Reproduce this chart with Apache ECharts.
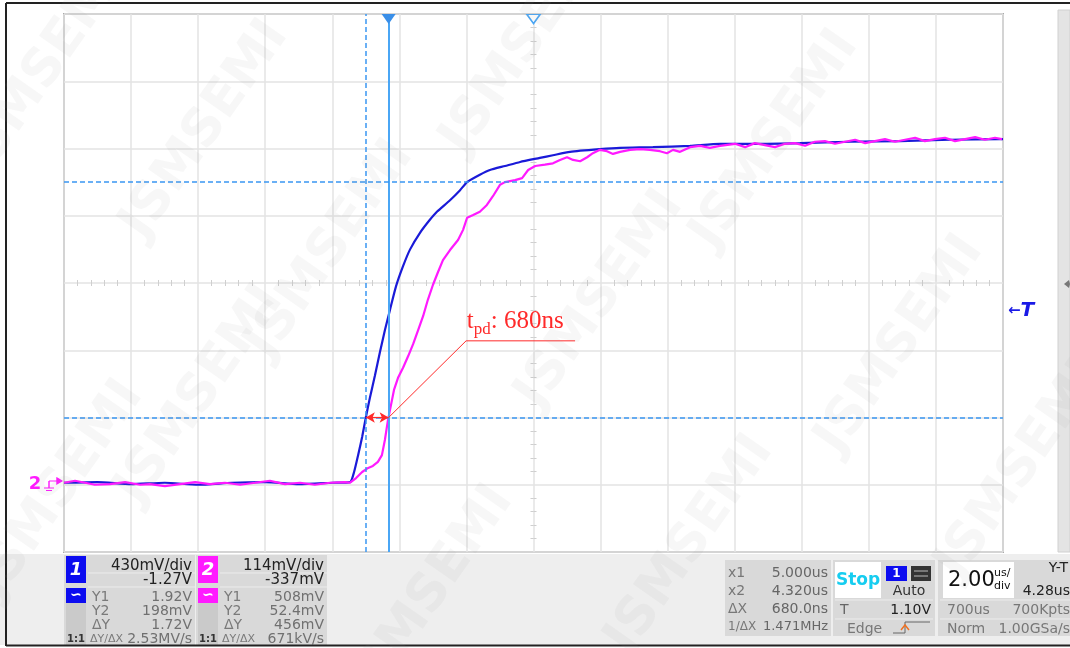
<!DOCTYPE html>
<html>
<head>
<meta charset="utf-8">
<script src="https://cdn.jsdelivr.net/npm/echarts@6/dist/echarts.min.js"></script>
<style>
html, body { margin: 0; padding: 0; background: #fff; }
#scope { width: 1070px; height: 648px; }
</style>
</head>
<body>
<div id="scope"></div>
<script>
// screen time in us (14 div x 2.00us/div), level in divisions (8 div)
var ch1Time = [0, 1, 2, 3, 4, 5, 6, 7, 8, 8.53, 8.65, 8.77, 8.89, 9.0, 9.12, 9.27, 9.42, 9.57, 9.72, 9.9,
  10.11, 10.32, 10.62, 10.91, 11.12, 11.51, 11.81, 12.02, 12.4, 12.7, 13.15, 13.6, 14.19, 14.58, 15.09,
  15.98, 16.58, 17.56, 18.67, 19.56, 20.75, 21.95, 23.44, 24.93, 26.42, 27.91, 28.0]
var ch1Div = [1.03, 1.04, 1.01, 1.03, 1.0, 1.03, 1.04, 1.01, 1.03, 1.04, 1.19, 1.44, 1.71, 2.0, 2.29, 2.62,
  2.97, 3.3, 3.6, 3.95, 4.25, 4.5, 4.75, 4.94, 5.06, 5.23, 5.38, 5.5, 5.61, 5.68, 5.74, 5.8, 5.86, 5.9,
  5.95, 5.99, 6.01, 6.02, 6.04, 6.07, 6.07, 6.08, 6.1, 6.11, 6.13, 6.14, 6.14]

var ch2Time = [0, 0.33, 0.63, 0.92, 1.37, 1.82, 2.27, 2.56, 3.01, 3.46, 3.91, 4.35, 4.8, 5.25, 5.7, 6.14,
  6.59, 7.04, 7.48, 7.93, 8.38, 8.53, 8.71, 8.89, 9.07, 9.21, 9.36, 9.48, 9.57, 9.66, 9.72, 9.84, 9.96,
  10.11, 10.26, 10.41, 10.56, 10.71, 10.85, 11.0, 11.15, 11.3, 11.51, 11.75, 11.9, 12.02, 12.2, 12.4,
  12.61, 12.79, 13.0, 13.15, 13.45, 13.66, 13.84, 14.05, 14.34, 14.58, 14.79, 15.0, 15.18, 15.39, 15.6,
  15.77, 15.98, 16.19, 16.37, 16.58, 16.88, 17.18, 17.47, 17.77, 17.98, 18.16, 18.37, 18.67, 18.97,
  19.26, 19.56, 20.01, 20.31, 20.6, 20.9, 21.2, 21.5, 21.8, 22.1, 22.39, 22.69, 22.99, 23.29, 23.59,
  23.89, 24.18, 24.48, 24.78, 25.08, 25.38, 25.67, 25.97, 26.27, 26.57, 26.87, 27.17, 27.46, 27.76, 27.97]
var ch2Div = [1.03, 1.06, 1.03, 1.0, 1.01, 1.04, 1.0, 1.01, 0.98, 1.01, 1.04, 1.01, 1.03, 1.0, 1.03, 1.06,
  1.01, 1.03, 1.0, 1.03, 1.04, 1.03, 1.1, 1.19, 1.25, 1.28, 1.34, 1.44, 1.67, 1.96, 2.11, 2.41, 2.59,
  2.74, 2.91, 3.09, 3.3, 3.51, 3.75, 3.97, 4.16, 4.34, 4.49, 4.64, 4.79, 4.97, 5.01, 5.06, 5.16, 5.29,
  5.46, 5.5, 5.53, 5.56, 5.68, 5.74, 5.76, 5.78, 5.83, 5.87, 5.83, 5.81, 5.87, 5.93, 5.98, 5.96, 5.92,
  5.95, 5.98, 5.99, 5.98, 5.96, 5.93, 5.98, 5.95, 6.02, 6.04, 6.01, 6.04, 6.07, 6.02, 6.08, 6.05, 6.02,
  6.07, 6.08, 6.04, 6.1, 6.11, 6.07, 6.1, 6.13, 6.08, 6.11, 6.14, 6.1, 6.13, 6.16, 6.11, 6.14, 6.16,
  6.11, 6.14, 6.17, 6.13, 6.16, 6.14]

var cursorX = [9.0, 9.68]     // X1 (dashed), X2 (solid)
var cursorY = [5.5, 2.0]      // Y1, Y2
var trigPos = 14
var trigLevel = 3.58
var ch2Offset = 1.026
var leaderT = [9.68, 11.99, 15.24]
var leaderV = [2.0, 3.14, 3.14]
var tpdText = '680ns'

var ch1Scale = ['430mV/div', '-1.27V']
var ch1Rows = [['Y1', '1.92V'], ['Y2', '198mV'], ['\u0394Y', '1.72V'], ['\u0394Y/\u0394X', '2.53MV/s']]
var ch2Scale = ['114mV/div', '-337mV']
var ch2Rows = [['Y1', '508mV'], ['Y2', '52.4mV'], ['\u0394Y', '456mV'], ['\u0394Y/\u0394X', '671kV/s']]
var cursorRows = [['x1', '5.000us'], ['x2', '4.320us'], ['\u0394X', '680.0ns'], ['1/\u0394X', '1.471MHz']]
var trigRows = ['Stop', 'Auto', 'T', '1.10V', 'Edge']
var timeRows = ['2.00', 'Y-T', '4.28us', '700us', '700Kpts', 'Norm', '1.00GSa/s']

var FONT = 'DejaVu Sans'
var BLUE = '#1a1ad8'
var PINK = '#ff1aff'
var CUR = '#3a96f2'
var RED = '#ff2a2a'

function pairs(xs, ys) {
  return xs.map(function (x, i) { return [x, ys[i]] })
}

// ---- bottom status panel (plain graphic elements) ----
var els = []
function rect(x, y, w, h, fill, stroke) {
  els.push({ type: 'rect', shape: { x: x, y: y, width: w, height: h },
    style: { fill: fill, stroke: stroke || null, lineWidth: 1 }, silent: true })
}
function line(x1, y1, x2, y2, color, w) {
  els.push({ type: 'line', shape: { x1: x1, y1: y1, x2: x2, y2: y2 },
    style: { stroke: color, lineWidth: w || 1 }, silent: true })
}
function txt(x, y, s, o) {
  o = o || {}
  els.push({ type: 'text', x: x, y: y, silent: true,
    style: { text: s, fill: o.color || '#333', font: (o.weight || 'normal') + ' ' + (o.style || 'normal') + ' ' + (o.size || 14) + 'px "' + (o.family || FONT) + '"',
      align: o.align || 'left', verticalAlign: 'middle' } })
}

rect(0, 554, 1070, 91, '#eeeeee')
rect(1058, 10, 12, 542, '#e4e4e4', '#d0d0d0')
els.push({ type: 'polygon', shape: { points: [[1064, 284], [1069, 280], [1070, 284], [1069, 288]] }, style: { fill: '#777' }, silent: true })

function chanPanel(x0, color, num, scale, rows) {
  rect(x0, 555, 131, 90, '#d9d9d9')
  rect(x0 + 2, 556, 20, 27, color)
  txt(x0 + 12, 570, num, { color: '#fff', size: 18, weight: 'bold', style: 'italic', align: 'center' })
  line(x0 + 24, 573, x0 + 131, 573, '#ececec', 1)
  line(x0 + 24, 587, x0 + 131, 587, '#ececec', 1)
  txt(x0 + 128, 566, scale[0], { size: 15, color: '#222', align: 'right' })
  txt(x0 + 128, 580, scale[1], { size: 15, color: '#222', align: 'right' })
  rect(x0 + 2, 588, 20, 15, color)
  txt(x0 + 12, 595, '\u223D', { color: '#fff', size: 14, weight: 'bold', align: 'center' })
  rect(x0 + 2, 603, 20, 42, '#cacaca')
  for (var i = 0; i < rows.length; i++) {
    var y = 597 + i * 14
    txt(x0 + (i === 3 ? 26 : 28), y, rows[i][0], { size: i === 3 ? 11 : 14, color: '#7a7a7a' })
    txt(x0 + 128, y, rows[i][1], { size: 14, color: '#707070', align: 'right' })
  }
  txt(x0 + 3, 639, '1:1', { size: 10, color: '#333', weight: 'bold' })
}
chanPanel(64, '#0c0cf0', '1', ch1Scale, ch1Rows)
chanPanel(196, PINK, '2', ch2Scale, ch2Rows)

// cursor readout
rect(725, 560, 106, 76, '#d9d9d9')
for (var i = 0; i < cursorRows.length; i++) {
  txt(728, 573 + i * 18, cursorRows[i][0], { size: i === 3 ? 12 : 14, color: '#777' })
  txt(828, 573 + i * 18, cursorRows[i][1], { size: i === 3 ? 13 : 14, color: '#666', align: 'right' })
}
// trigger block
rect(833, 560, 102, 76, '#d9d9d9')
rect(835, 562, 46, 36, '#ffffff')
txt(858, 581, trigRows[0], { size: 17, color: '#16cdf0', weight: 'bold', align: 'center' })
rect(886, 566, 21, 15, '#0c0cf0')
txt(896.5, 574, '1', { size: 12, color: '#fff', weight: 'bold', align: 'center' })
rect(911, 566, 20, 15, '#333')
line(914, 571, 928, 571, '#bbb', 1)
line(914, 576, 928, 576, '#bbb', 1)
txt(909, 591, trigRows[1], { size: 14, color: '#333', align: 'center' })
line(835, 600, 933, 600, '#ececec', 1)
txt(840, 610, trigRows[2], { size: 14, color: '#666' })
txt(931, 610, trigRows[3], { size: 14, color: '#222', align: 'right' })
line(835, 619, 933, 619, '#ececec', 1)
txt(847, 629, trigRows[4], { size: 14, color: '#777' })
els.push({ type: 'polyline', shape: { points: [[893, 633], [905, 633], [905, 622], [930, 622]] }, style: { stroke: '#666', lineWidth: 1, fill: null }, silent: true })
els.push({ type: 'polyline', shape: { points: [[901, 630], [905, 625], [909, 630]] }, style: { stroke: '#f07020', lineWidth: 1.5, fill: null }, silent: true })
// timebase block
rect(938, 560, 132, 76, '#d9d9d9')
rect(943, 562, 71, 36, '#ffffff')
txt(948, 581, timeRows[0], { size: 21, color: '#111' })
txt(994, 573, 'us/', { size: 11, color: '#111' })
txt(994, 586, 'div', { size: 11, color: '#111' })
txt(1068, 568, timeRows[1], { size: 14, color: '#222', align: 'right' })
txt(1070, 591, timeRows[2], { size: 14, color: '#222', align: 'right' })
line(940, 600, 1070, 600, '#ececec', 1)
txt(947, 610, timeRows[3], { size: 14, color: '#777' })
txt(1070, 610, timeRows[4], { size: 14, color: '#777', align: 'right' })
line(940, 619, 1070, 619, '#ececec', 1)
txt(947, 629, timeRows[5], { size: 14, color: '#777' })
txt(1070, 629, timeRows[6], { size: 14, color: '#777', align: 'right' })

// outer frame
line(6, 3, 1070, 3, '#222', 2)
line(6, 3, 6, 646, '#222', 2)
line(6, 645.5, 1070, 645.5, '#222', 2)

// watermark
var wmPos = [[45, 70], [205, 130], [330, 250], [525, 45], [775, 140], [900, 345], [1020, 470],
  [690, 545], [430, 595], [200, 395], [60, 490], [600, 300]]
wmPos.forEach(function (p) {
  els.push({ type: 'text', x: p[0], y: p[1], rotation: 55 * Math.PI / 180, silent: true, z: 100,
    style: { text: 'JSMSEMI', fill: 'rgba(150,150,150,0.08)', font: 'bold 52px "DejaVu Sans"',
      align: 'center', verticalAlign: 'middle' } })
})

var groundPath = 'path://M5,3 L5,10 M0,10 L10,10 M2,12.5 L8,12.5 M5,3 L13,3 M13,0 L18,3 L13,6 Z'

var option = {
  animation: false,
  backgroundColor: '#ffffff',
  grid: { left: 64, top: 14, width: 939, height: 538, show: true, borderColor: '#a9a9a9', borderWidth: 2, backgroundColor: '#fff' },
  xAxis: [
    { type: 'value', min: 0, max: 28, interval: 2, axisLabel: { show: false }, axisTick: { show: false },
      axisLine: { show: false }, splitLine: { show: true, lineStyle: { color: '#e3e3e3', width: 1.5 } } },
    { type: 'value', min: 0, max: 28, interval: 2, position: 'bottom', offset: -269, axisLabel: { show: false },
      axisTick: { show: false, inside: true }, axisLine: { show: false }, splitLine: { show: false },
      minorTick: { show: true, splitNumber: 5, length: 3, lineStyle: { color: '#cfcfcf' } } },
    { type: 'value', min: 0, max: 28, interval: 2, position: 'bottom', offset: -269, axisLabel: { show: false },
      axisTick: { show: false, inside: false }, axisLine: { show: false }, splitLine: { show: false },
      minorTick: { show: true, splitNumber: 5, length: 3, lineStyle: { color: '#cfcfcf' } } }
  ],
  yAxis: [
    { type: 'value', min: 0, max: 8, interval: 1, axisLabel: { show: false }, axisTick: { show: false },
      axisLine: { show: false }, splitLine: { show: true, lineStyle: { color: '#e3e3e3', width: 1.5 } } },
    { type: 'value', min: 0, max: 8, interval: 1, position: 'left', offset: -469.5, axisLabel: { show: false },
      axisTick: { show: false, inside: true }, axisLine: { show: false }, splitLine: { show: false },
      minorTick: { show: true, splitNumber: 5, length: 3, lineStyle: { color: '#cfcfcf' } } },
    { type: 'value', min: 0, max: 8, interval: 1, position: 'left', offset: -469.5, axisLabel: { show: false },
      axisTick: { show: false, inside: false }, axisLine: { show: false }, splitLine: { show: false },
      minorTick: { show: true, splitNumber: 5, length: 3, lineStyle: { color: '#cfcfcf' } } }
  ],
  series: [
    {
      name: 'CH1', type: 'line', data: pairs(ch1Time, ch1Div), showSymbol: false, z: 3, smooth: 0.2,
      lineStyle: { color: BLUE, width: 2.2 },
      markLine: {
        silent: true, symbol: 'none', label: { show: false },
        data: [
          { xAxis: cursorX[0], lineStyle: { color: CUR, type: [5, 3], width: 1.5 } },
          { xAxis: cursorX[1], lineStyle: { color: '#4aa6f5', type: 'solid', width: 2 } },
          { yAxis: cursorY[0], lineStyle: { color: CUR, type: [5, 3], width: 1.5 } },
          { yAxis: cursorY[1], lineStyle: { color: CUR, type: [5, 3], width: 1.5 } }
        ]
      },
      markPoint: {
        silent: true,
        data: [
          { coord: [cursorX[1], 8], symbol: 'triangle', symbolRotate: 180, symbolSize: [14, 10], symbolOffset: [0, 5],
            itemStyle: { color: '#3a8fe8' }, label: { show: false } },
          { coord: [trigPos, 8], symbol: 'triangle', symbolRotate: 180, symbolSize: [13, 9], symbolOffset: [0, 5],
            itemStyle: { color: '#ffffff', borderColor: '#4aa6f5', borderWidth: 1.5 }, label: { show: false } },
          { coord: [28, trigLevel], symbolSize: 0,
            label: { show: true, position: 'right', distance: 5, formatter: '{a|\u2190}{b|T}',
              rich: { a: { fontSize: 15, fontWeight: 'bold', color: '#1a1ae6', fontFamily: FONT },
                b: { fontSize: 20, fontWeight: 'bold', fontStyle: 'italic', color: '#1a1ae6', fontFamily: FONT } } } }
        ]
      }
    },
    {
      name: 'CH2', type: 'line', data: pairs(ch2Time, ch2Div), showSymbol: false, z: 4,
      lineStyle: { color: PINK, width: 2.2 },
      markPoint: {
        silent: true,
        data: [
          { coord: [0, ch2Offset], symbol: groundPath, symbolSize: [18, 12.5], symbolOffset: [-11, 1.25],
            itemStyle: { color: PINK, borderColor: PINK, borderWidth: 1.2 },
            label: { show: true, position: 'left', distance: 2, formatter: '2', color: PINK, fontSize: 18,
              fontWeight: 'bold', fontFamily: FONT } }
        ]
      }
    },
    {
      name: 'tpd', type: 'line', data: pairs(leaderT, leaderV), showSymbol: false, z: 5,
      lineStyle: { color: RED, width: 1 },
      markLine: {
        silent: true, symbol: ['arrow', 'arrow'], symbolSize: [8, 9], label: { show: false },
        lineStyle: { color: RED, type: 'solid', width: 1.2 },
        data: [[{ coord: [cursorX[0], cursorY[1]] }, { coord: [cursorX[1], cursorY[1]] }]]
      },
      markPoint: {
        silent: true,
        data: [
          { coord: [leaderT[1], leaderV[1]], symbolSize: 1, itemStyle: { color: 'rgba(0,0,0,0)' },
            label: { show: true, position: [1, -31], align: 'left', verticalAlign: 'top',
              formatter: '{t|t}{s|pd}{t|: ' + tpdText + '}',
              rich: {
                t: { fontFamily: 'Liberation Serif', fontSize: 25, color: RED, lineHeight: 30, verticalAlign: 'top' },
                s: { fontFamily: 'Liberation Serif', fontSize: 17, color: RED, lineHeight: 30, verticalAlign: 'top', padding: [12, 0, 0, 0] }
              } } }
        ]
      }
    }
  ],
  graphic: { elements: els }
}

var chart = echarts.init(document.getElementById('scope'))
chart.setOption(option)
</script>
</body>
</html>
